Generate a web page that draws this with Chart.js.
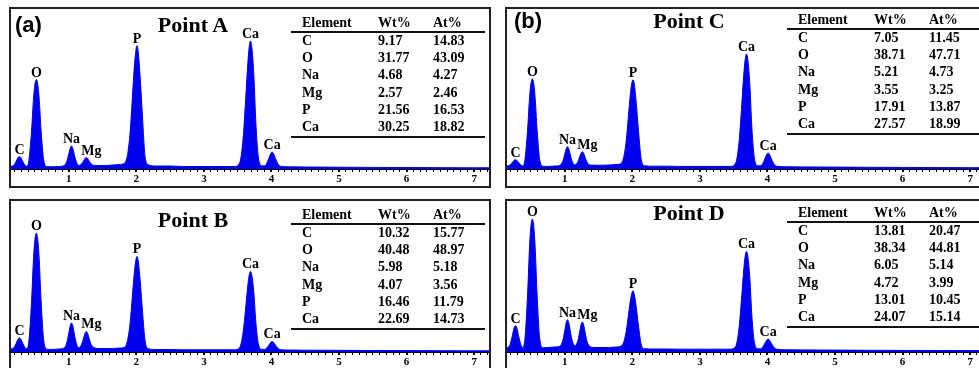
<!DOCTYPE html>
<html>
<head>
<meta charset="utf-8">
<script src="https://cdn.jsdelivr.net/npm/chart.js@4.4.1/dist/chart.umd.min.js"></script>
<style>
  html, body { margin: 0; padding: 0; background: #fff; }
  body { width: 979px; height: 368px; overflow: hidden; position: relative; }
  .panel { position: absolute; width: 478px; border: 2px solid #222; box-sizing: content-box; }
  .panel canvas { position: absolute; left: 0; top: 0; }
  .txt { position: absolute; font-family: "Liberation Serif", serif; font-weight: bold; color: #000; white-space: nowrap; line-height: 1; }
  .tag { position: absolute; font-family: "Liberation Sans", Arial, sans-serif; font-weight: bold; font-size: 22px; line-height: 1; color: #000; }
  .rule { position: absolute; height: 2px; background: #111; }
</style>
</head>
<body>
<script>
// energy axis (keV), shared by all four spectra
var energy = [
  0.145, 0.19, 0.22, 0.25, 0.27, 0.29, 0.32, 0.35, 0.38,
  0.41, 0.45, 0.48, 0.50, 0.52, 0.54, 0.56, 0.59, 0.63,
  0.68, 0.75, 0.85, 0.93,
  0.97, 1.00, 1.02, 1.04, 1.06, 1.09, 1.12, 1.15,
  1.19, 1.22, 1.24, 1.26, 1.28, 1.30, 1.33, 1.38,
  1.45, 1.55, 1.65, 1.75, 1.82,
  1.87, 1.91, 1.94, 1.97, 1.99, 2.01, 2.03, 2.06, 2.09, 2.13, 2.18,
  2.30, 2.50, 2.70, 2.90, 3.10, 3.30, 3.45,
  3.53, 3.58, 3.62, 3.65, 3.67, 3.69, 3.71, 3.74, 3.77, 3.81, 3.86, 3.90,
  3.93, 3.96, 3.99, 4.01, 4.03, 4.06, 4.10, 4.15,
  4.25, 4.50, 5.00, 5.50, 6.00, 6.50, 7.00, 7.22
];

var countsA = [
  2.6, 4, 7.5, 11.5, 12.5, 11.5, 7.5, 4, 2.7,
  8.6, 39, 72, 85, 89.5, 85, 72, 39, 8.6,
  2.3, 2.2, 2.5, 3.4,
  7.4, 15, 20.6, 23, 20.6, 12.2, 5.8, 3.6,
  5.3, 8.3, 10.5, 11.5, 10.5, 8.3, 5.3, 3.6,
  3.5, 3.5, 4, 4.5, 5.5,
  14.5, 38, 70, 102, 116.6, 123.5, 116, 88.5, 53.5, 12, 4.2,
  3, 3, 2.5, 2.5, 2.5, 2.5, 2.5,
  6.3, 30, 71.5, 105.5, 121.7, 128, 121.7, 92.9, 45, 10, 3.2, 3.2,
  5.7, 10.5, 15.5, 17, 15.5, 10.5, 4.7, 2.6,
  2.2, 2, 1.8, 1.6, 1.5, 1.3, 1.2, 1.2
];
var countsB = [
  3.1, 4.6, 8.5, 12.9, 14, 12.9, 8.5, 4.6, 3.2,
  11.1, 51.7, 95.8, 113, 119, 113, 95.8, 51.7, 11.1,
  2.8, 2.6, 3, 4,
  9.1, 18.8, 25.9, 29, 25.9, 15.2, 7.1, 4.4,
  7.7, 14, 18.6, 20.6, 18.6, 14, 7.7, 4.2,
  3.5, 3.5, 3.5, 4, 4.5,
  11.8, 30, 54.5, 79, 90.5, 95.6, 90, 69, 41.7, 11, 3.3,
  2.5, 2.5, 2.2, 2.2, 2.2, 2.2, 2.2,
  4.6, 19.4, 45.2, 66.5, 76.7, 80.6, 76.7, 58.6, 29, 7, 2.6, 2.6,
  4, 6.8, 9.8, 10.6, 9.8, 6.8, 3.4, 2.2,
  2, 1.8, 1.7, 1.5, 1.4, 1.3, 1.2, 1.2
];
var countsC = [
  3.1, 3.9, 6.2, 8.7, 9.3, 8.7, 6.2, 3.9, 3.1,
  9.1, 39.5, 72.6, 85.6, 90, 85.6, 72.6, 39.5, 9.1,
  2.8, 2.6, 3, 3.8,
  7.6, 14.8, 20, 22.3, 20, 12.1, 6.1, 4.2,
  6.8, 11.9, 15.7, 17.3, 15.7, 11.9, 6.8, 3.9,
  3.8, 3.8, 4, 4.5, 5,
  11.3, 28.3, 51.3, 74.2, 85, 89.3, 84.6, 64.7, 39.2, 10.5, 3.3,
  2.8, 2.8, 2.6, 2.6, 2.6, 2.6, 2.6,
  6, 27.3, 64.4, 94.8, 109.4, 115, 109.4, 83.6, 40.5, 9.5, 3.2, 3.3,
  5.5, 10, 14.7, 16, 14.7, 10, 4.6, 2.7,
  2.3, 2.1, 1.9, 1.7, 1.6, 1.4, 1.3, 1.3
];
var countsD = [
  4.2, 7.3, 15.2, 24.1, 26.3, 24.1, 15.2, 7.3, 4.5,
  13, 58.2, 107.2, 126.6, 133, 126.6, 107.2, 58.2, 13,
  4.2, 4.5, 5, 6,
  11.2, 21.5, 29.1, 32.3, 29.1, 17.7, 9.1, 6.4,
  10.5, 20, 27, 30, 27, 20, 10.5, 5.3,
  4.5, 4.5, 4.5, 5, 5.5,
  9.5, 20.7, 35.8, 51, 58, 61.3, 57.2, 43.8, 27, 8, 3.3,
  3, 3, 2.8, 2.8, 2.8, 2.8, 2.8,
  5.7, 24.3, 56.6, 83, 95.7, 100.6, 95.7, 73.2, 35.5, 8.5, 3.2, 3.2,
  5, 8.4, 12, 13, 12, 8.4, 4.3, 2.7,
  2.3, 2.1, 1.9, 1.7, 1.6, 1.5, 1.4, 1.4
];

// peak labels
var peakNames = ['C', 'O', 'Na', 'Mg', 'P', 'Ca', 'Ca'];
var peakEnergy = [0.27, 0.52, 1.04, 1.26, 2.01, 3.69, 4.01];

// composition tables
var tableHead = ['Element', 'Wt%', 'At%'];
var elements = ['C', 'O', 'Na', 'Mg', 'P', 'Ca'];
var wtA = ['9.17', '31.77', '4.68', '2.57', '21.56', '30.25'];
var atA = ['14.83', '43.09', '4.27', '2.46', '16.53', '18.82'];
var wtB = ['10.32', '40.48', '5.98', '4.07', '16.46', '22.69'];
var atB = ['15.77', '48.97', '5.18', '3.56', '11.79', '14.73'];
var wtC = ['7.05', '38.71', '5.21', '3.55', '17.91', '27.57'];
var atC = ['11.45', '47.71', '4.73', '3.25', '13.87', '18.99'];
var wtD = ['13.81', '38.34', '6.05', '4.72', '13.01', '24.07'];
var atD = ['20.47', '44.81', '5.14', '3.99', '10.45', '15.14'];

var panels = [
  { title: 'Point A', tag: '(a)', left: 9,   top: 7,   h: 177, counts: countsA, wt: wtA, at: atA, titleY: 16, tagY: 16, tagX: 4, tabY: 0 },
  { title: 'Point B', tag: '',    left: 9,   top: 199, h: 168, counts: countsB, wt: wtB, at: atB, titleY: 19, tagY: 0,  tagX: 0, tabY: 0 },
  { title: 'Point C', tag: '(b)', left: 505, top: 7,   h: 177, counts: countsC, wt: wtC, at: atC, titleY: 12, tagY: 12, tagX: 7, tabY: -3 },
  { title: 'Point D', tag: '',    left: 505, top: 199, h: 168, counts: countsD, wt: wtD, at: atD, titleY: 12, tagY: 0,  tagX: 0, tabY: -2 }
];

var blue = 'rgb(0,0,240)';
var serif = '"Liberation Serif", "Times New Roman", serif';

var peakLabels = {
  id: 'peakLabels',
  afterDatasetsDraw: function (chart) {
    var ctx = chart.ctx;
    var xs = chart.scales.x, ys = chart.scales.y;
    var data = chart.data.datasets[0].data;
    ctx.save();
    ctx.font = 'bold 14px ' + serif;
    ctx.fillStyle = '#000';
    ctx.textAlign = 'center';
    ctx.textBaseline = 'alphabetic';
    peakNames.forEach(function (name, i) {
      var idx = energy.indexOf(peakEnergy[i]);
      var px = xs.getPixelForValue(peakEnergy[i]) + (name === 'Mg' ? 5 : 0);
      var py = ys.getPixelForValue(data[idx].y) - 3;
      ctx.fillText(name, px, py);
    });
    ctx.restore();
  }
};

function isWhole(v) { return Math.abs(v - Math.round(v)) < 0.001; }

panels.forEach(function (p) {
  var div = document.createElement('div');
  div.className = 'panel';
  div.style.left = p.left + 'px';
  div.style.top = p.top + 'px';
  div.style.height = p.h + 'px';
  document.body.appendChild(div);

  var cv = document.createElement('canvas');
  cv.width = 478; cv.height = p.h;
  cv.style.width = '478px'; cv.style.height = p.h + 'px';
  div.appendChild(cv);

  var axisH = 17;
  new Chart(cv, {
    type: 'line',
    data: {
      datasets: [{
        data: energy.map(function (e, i) { return { x: e, y: p.counts[i] }; }),
        fill: 'origin',
        backgroundColor: blue,
        borderColor: blue,
        borderWidth: 1,
        pointRadius: 0,
        cubicInterpolationMode: 'monotone'
      }]
    },
    options: {
      responsive: false,
      animation: false,
      events: [],
      layout: { padding: 0 },
      plugins: { legend: { display: false }, tooltip: { enabled: false } },
      scales: {
        x: {
          type: 'linear',
          min: 0.145,
          max: 7.22,
          afterFit: function (s) { s.height = axisH; },
          border: { display: true, color: '#000', width: 2 },
          grid: {
            drawOnChartArea: false,
            drawTicks: true,
            tickLength: 3,
            color: '#000',
            lineWidth: function (c) { return c.tick && isWhole(c.tick.value) ? 2 : 1; }
          },
          ticks: {
            stepSize: 0.1,
            includeBounds: false,
            autoSkip: false,
            maxRotation: 0,
            padding: 1,
            color: '#000',
            font: { family: serif, weight: 'bold', size: 11 },
            callback: function (v) { return isWhole(v) ? String(Math.round(v)) : ''; }
          }
        },
        y: { display: false, min: 0, max: p.h - axisH }
      }
    },
    plugins: [peakLabels]
  });

  // title and tag
  var t = document.createElement('div');
  t.className = 'txt';
  t.style.fontSize = '22px';
  t.textContent = p.title;
  t.style.left = '182px';
  t.style.top = p.titleY + 'px';
  t.style.transform = 'translate(-50%,-50%)';
  div.appendChild(t);
  if (p.tag) {
    var g = document.createElement('div');
    g.className = 'tag';
    g.textContent = p.tag;
    g.style.left = p.tagX + 'px';
    g.style.top = p.tagY + 'px';
    g.style.transform = 'translateY(-50%)';
    div.appendChild(g);
  }

  // table
  var cols = [291, 367, 422];
  var rowH = 17.2;
  function cell(text, x, y) {
    var c = document.createElement('div');
    c.className = 'txt';
    c.style.fontSize = '14px';
    c.textContent = text;
    c.style.left = x + 'px';
    c.style.top = (y + p.tabY) + 'px';
    c.style.transform = 'translateY(-50%)';
    div.appendChild(c);
  }
  tableHead.forEach(function (h, j) { cell(h, cols[j], 14); });
  elements.forEach(function (el, i) {
    var y = 32 + i * rowH;
    cell(el, cols[0], y);
    cell(p.wt[i], cols[1], y);
    cell(p.at[i], cols[2], y);
  });
  [22, 127].forEach(function (y) {
    var r = document.createElement('div');
    r.className = 'rule';
    r.style.left = '280px';
    r.style.width = '194px';
    r.style.top = (y + p.tabY) + 'px';
    div.appendChild(r);
  });
});
</script>
</body>
</html>
